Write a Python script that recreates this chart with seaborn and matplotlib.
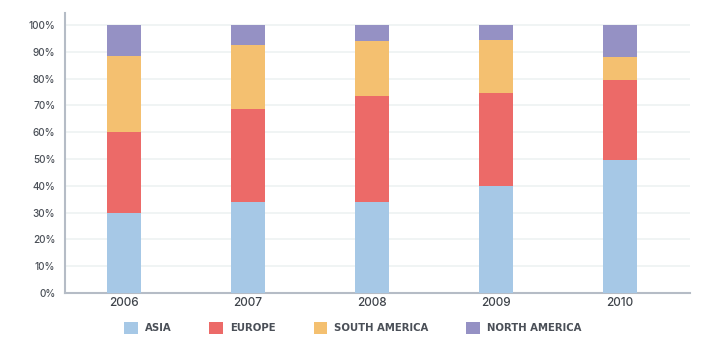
import matplotlib
matplotlib.use("Agg")
import matplotlib.pyplot as plt
import seaborn as sns
import numpy as np
import pandas as pd
from matplotlib.patches import Patch

years = ["2006", "2007", "2008", "2009", "2010"]
asia = [30, 34, 34, 40, 49.5]
europe = [30, 34.5, 39.5, 34.5, 30]
south_america = [28.5, 24, 20.5, 20, 8.5]
north_america = [11.5, 7.5, 6, 5.5, 12]
series_names = ["ASIA", "EUROPE", "SOUTH AMERICA", "NORTH AMERICA"]
colors = ["#a6c8e6", "#ec6a68", "#f4c070", "#9591c4"]
yticks = [0, 10, 20, 30, 40, 50, 60, 70, 80, 90, 100]

sns.set_theme(style="white")
plt.rcParams['font.family'] = ['Inter', 'DejaVu Sans']

fig = plt.figure(figsize=(7.02, 3.5), dpi=100)
ax = fig.add_axes([65/702, 1-293/350, (690-65)/702, (293-13)/350])

series = [asia, europe, south_america, north_america]
bottom = np.zeros(len(years))
for name, vals, c in zip(series_names, series, colors):
    df = pd.DataFrame({"year": years, "val": vals})
    sns.barplot(data=df, x="year", y="val", color=c, ax=ax, width=0.274,
                bottom=bottom, saturation=1, linewidth=0, zorder=3)
    bottom = bottom + np.array(vals)

ax.set_xlim(-0.476, 4.565)
ax.set_ylim(0, 104.5)
ax.set_yticks(yticks)
ax.set_yticklabels([f"{t}%" for t in yticks])
ax.yaxis.grid(True, color="#edf2f2", linewidth=1.2, zorder=0)
ax.set_axisbelow(True)
ax.set_xlabel("")
ax.set_ylabel("")
for s in ["top", "right"]:
    ax.spines[s].set_visible(False)
for s in ["left", "bottom"]:
    ax.spines[s].set_color("#b5bcc6")
    ax.spines[s].set_linewidth(1.5)
ax.tick_params(axis="y", labelsize=7.2, colors="#4a4f57", length=0, pad=7)
ax.tick_params(axis="x", labelsize=8.5, colors="#3f444b", length=0, pad=3)
for lbl in ax.get_yticklabels() + ax.get_xticklabels():
    lbl.set_fontweight(500)

handles = [Patch(facecolor=c, edgecolor="none") for c in colors]
fs = 7.3
fig.legend(handles, series_names, loc="center", bbox_to_anchor=(353/702, 1-328/350),
           ncol=4, frameon=False, handlelength=1.37, handleheight=1.37,
           columnspacing=3.7, handletextpad=0.69, borderpad=0, borderaxespad=0,
           prop={"size": fs, "weight": "bold", "family": "DejaVu Sans"},
           labelcolor="#4a4f57")

fig.savefig("out.png", dpi=100, facecolor="white")
